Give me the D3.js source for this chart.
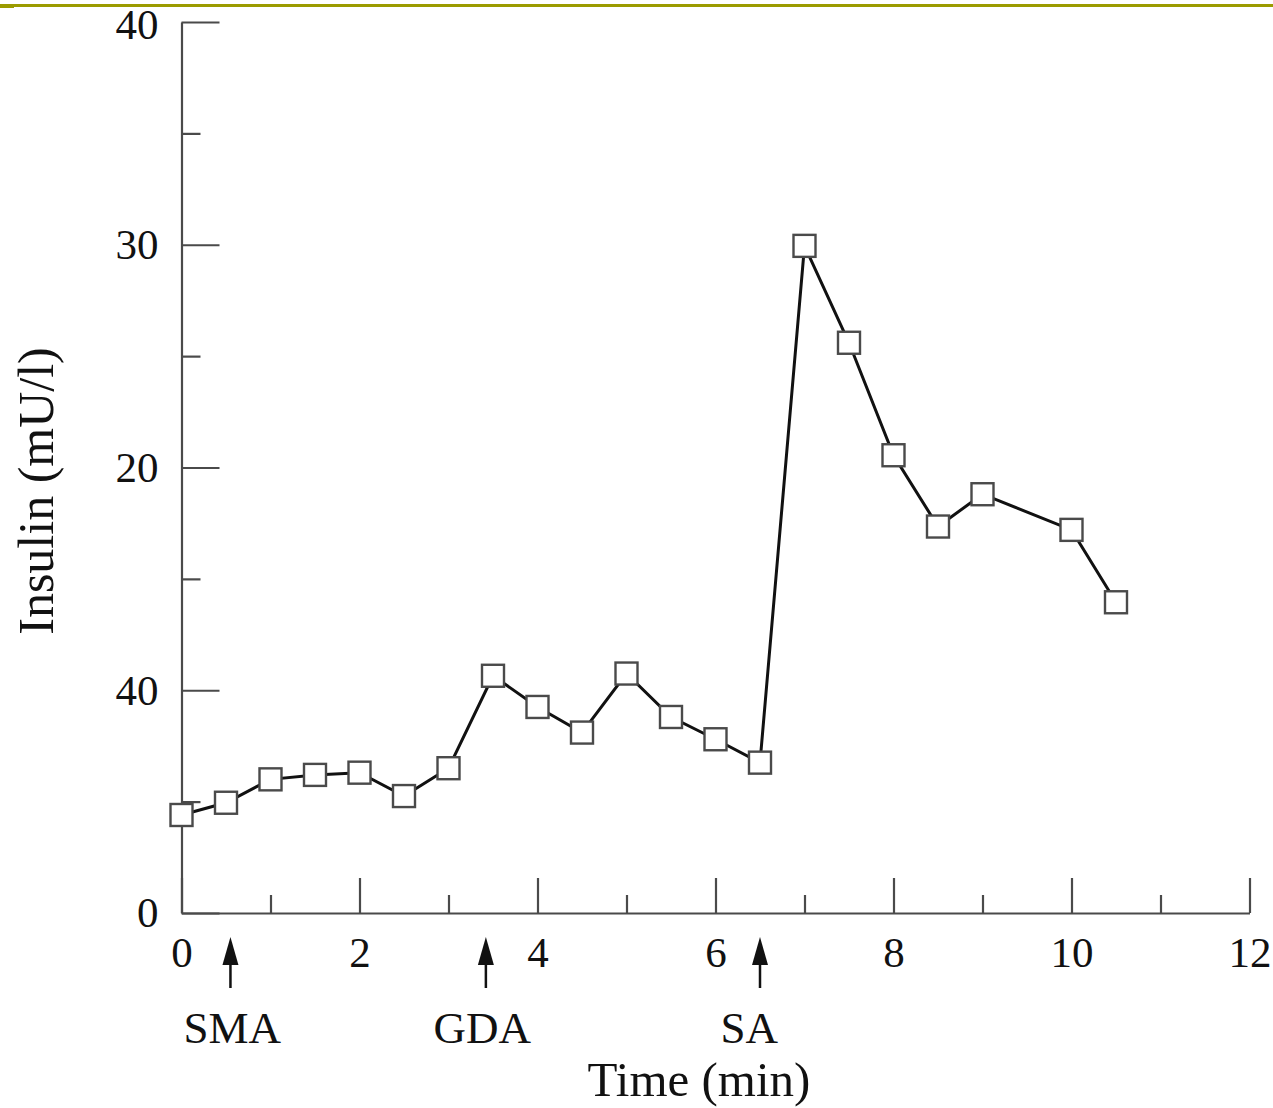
<!DOCTYPE html>
<html>
<head>
<meta charset="utf-8">
<script src="https://cdn.jsdelivr.net/npm/d3@7"></script>
<style>
  html, body { margin: 0; padding: 0; background: #fff; }
  svg { display: block; }
</style>
</head>
<body>
<svg id="chart" width="1273" height="1108"></svg>
<script>
// ---- data ----
const times   = [0, 0.5, 1, 1.5, 2, 2.5, 3, 3.5, 4, 4.5, 5, 5.5, 6, 6.5, 7, 7.5, 8, 8.5, 9, 10, 10.5];
const insulin = [4.4, 4.95, 6.0, 6.2, 6.3, 5.25, 6.5, 10.65, 9.25, 8.1, 10.75, 8.8, 7.8, 6.75, 29.95, 25.6, 20.55, 17.35, 18.8, 17.2, 13.95];

const yMajorTicks  = [0, 10, 20, 30, 40];
const yTickLabels  = ["0", "40", "20", "30", "40"];
const yMinorTicks  = [5, 15, 25, 35];
const xMajorTicks  = [0, 2, 4, 6, 8, 10, 12];
const xTickLabels  = ["0", "2", "4", "6", "8", "10", "12"];
const xMinorTicks  = [1, 3, 5, 7, 9, 11];

const arrowTimes   = [0.55, 3.42, 6.5];
const arrowLabels  = ["SMA", "GDA", "SA"];
const labelTimes   = [0.57, 3.38, 6.38];

const xTitle = "Time (min)";
const yTitle = "Insulin (mU/l)";

// ---- layout ----
const svg = d3.select("#chart");
const x = d3.scaleLinear().domain([0, 12]).range([181.5, 1249.5]);
const y = d3.scaleLinear().domain([0, 40]).range([913, 22]);
const font = "'Liberation Serif', 'Times New Roman', serif";
const axisColor = "#4a4a4a";

// top olive rule
svg.append("rect").attr("x", 0).attr("y", 4).attr("width", 1273).attr("height", 3).attr("fill", "#9b9b00");
svg.append("rect").attr("x", 0).attr("y", 4).attr("width", 14).attr("height", 4).attr("fill", "#9b9b00");

// y axis (major)
const yAxis = d3.axisLeft(y)
  .tickValues(yMajorTicks)
  .tickFormat((d, i) => yTickLabels[i])
  .tickSizeInner(-38).tickSizeOuter(0).tickPadding(23);
const gy = svg.append("g").attr("transform", `translate(${x(0)},0)`).call(yAxis);
// y axis minor
const gy2 = svg.append("g").attr("transform", `translate(${x(0)},0)`)
  .call(d3.axisLeft(y).tickValues(yMinorTicks).tickFormat("").tickSizeInner(-19).tickSizeOuter(0));
gy2.select(".domain").remove();

// x axis (major)
const xAxis = d3.axisBottom(x)
  .tickValues(xMajorTicks)
  .tickFormat((d, i) => xTickLabels[i])
  .tickSizeInner(-35).tickSizeOuter(0).tickPadding(23);
const gx = svg.append("g").attr("transform", `translate(0,${y(0)})`).call(xAxis);
const gx2 = svg.append("g").attr("transform", `translate(0,${y(0)})`)
  .call(d3.axisBottom(x).tickValues(xMinorTicks).tickFormat("").tickSizeInner(-18).tickSizeOuter(0));
gx2.select(".domain").remove();

[gy, gy2, gx, gx2].forEach(g => {
  g.selectAll("path, line").attr("stroke", axisColor).attr("stroke-width", 2.2);
  g.selectAll("text").attr("font-family", font).attr("font-size", 43).attr("fill", "#111");
});
gx.selectAll("text").attr("dy", "0.71em");
// keep the topmost y label inside the page
gy.selectAll(".tick").filter(d => d === 40).select("text").attr("y", 3);

// line
const line = d3.line().x((d, i) => x(times[i])).y(d => y(d));
svg.append("path").datum(insulin)
  .attr("d", line).attr("fill", "none")
  .attr("stroke", "#111").attr("stroke-width", 3).attr("stroke-linejoin", "miter");

// markers
const ms = 22;
svg.append("g").selectAll("rect").data(insulin).join("rect")
  .attr("x", (d, i) => x(times[i]) - ms / 2)
  .attr("y", d => y(d) - ms / 2)
  .attr("width", ms).attr("height", ms)
  .attr("fill", "#fff").attr("stroke", "#4a4a4a").attr("stroke-width", 2.4);

// arrows
const ag = svg.append("g");
arrowTimes.forEach(t => {
  const ax = x(t);
  ag.append("line").attr("x1", ax).attr("x2", ax).attr("y1", 962).attr("y2", 988)
    .attr("stroke", "#111").attr("stroke-width", 2.5);
  ag.append("path")
    .attr("d", `M${ax},937 L${ax - 8},965 L${ax + 8},965 Z`)
    .attr("fill", "#111");
});
svg.append("g").selectAll("text").data(arrowLabels).join("text")
  .attr("x", (d, i) => x(labelTimes[i]))
  .attr("y", 1043)
  .attr("text-anchor", "middle")
  .attr("font-family", font).attr("font-size", 45).attr("fill", "#111")
  .text(d => d);

// axis titles
svg.append("text")
  .attr("x", 699).attr("y", 1096)
  .attr("text-anchor", "middle")
  .attr("font-family", font).attr("font-size", 49).attr("fill", "#111")
  .text(xTitle);
svg.append("text")
  .attr("transform", "translate(53,491) rotate(-90)")
  .attr("text-anchor", "middle")
  .attr("font-family", font).attr("font-size", 50).attr("fill", "#111")
  .text(yTitle);
</script>
</body>
</html>
